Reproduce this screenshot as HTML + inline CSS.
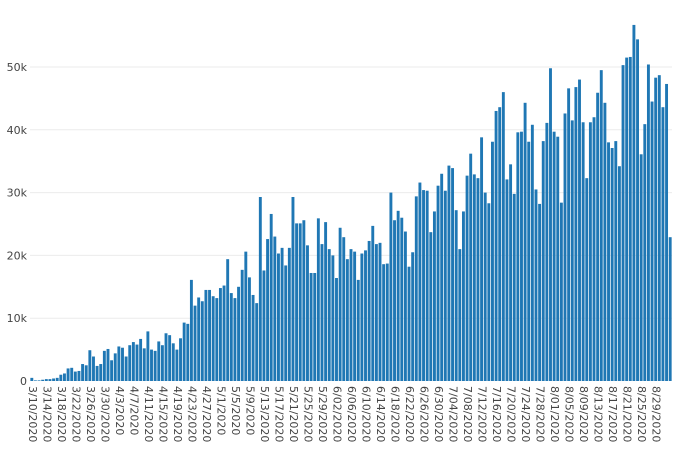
<!DOCTYPE html>
<html><head><meta charset="utf-8"><style>
body{margin:0;background:#fff}
svg{display:block;font-family:"DejaVu Sans","Liberation Sans",sans-serif}
</style></head><body>
<svg id="chart" width="680" height="458" viewBox="0 0 680 458">
<g id="grid"></g>
<g id="bars"></g>
<g id="yaxis"></g>
<g id="xaxis"></g>
</svg>
<script>
const values = [0.5,0.1,0.1,0.2,0.3,0.3,0.4,0.5,1,1.2,2,2.1,
1.5,1.6,2.7,2.5,4.9,3.9,2.4,2.7,4.8,5.1,3.3,4.4,5.5,5.3,3.9,5.7,6.2,5.8,6.7,5.2,7.9,5,4.8,6.3,5.7,7.6,7.3,6,5,6.8,9.3,9.1,16.1,
12,13.3,12.7,14.5,14.5,13.5,13.2,14.8,15.2,19.4,14,13.2,15,17.7,20.6,16.5,13.7,12.4,29.3,17.6,22.6,26.6,23,20.3,21.2,18.4,21.2,29.3,25.1,25.1,25.6,21.6,17.2,17.2,25.9,21.8,25.3,21,20,16.4,24.4,22.9,19.4,21,20.6,16.1,20.3,20.8,22.3,24.7,21.8,22,
18.6,18.7,30,25.6,27.1,26,23.8,18.2,20.5,29.4,31.6,30.4,30.3,23.7,27,31.1,33,30.3,34.3,33.9,27.2,21,27,32.7,36.2,32.9,32.3,38.8,30,28.3,38.1,43,43.6,46,32.1,34.5,29.8,39.6,39.7,44.3,38.1,40.8,30.5,28.2,38.2,41.1,49.8,39.7,38.9,28.4,42.6,46.6,41.5,46.8,48,41.2,32.3,41.2,42,45.9,49.5,44.3,38,37.1,38.2,34.2,50.3,51.5,51.6,56.7,54.4,36.1,40.9,50.4,44.5,48.3,48.7,43.6,47.3,22.9];
const yTicks = [0,10,20,30,40,50];
const yTickLabels = ["0","10k","20k","30k","40k","50k"];
const xTickLabels = ["3/10/2020","3/14/2020","3/18/2020","3/22/2020","3/26/2020","3/30/2020","4/3/2020","4/7/2020","4/11/2020","4/15/2020","4/19/2020","4/23/2020","4/27/2020","5/1/2020","5/5/2020","5/9/2020","5/13/2020","5/17/2020","5/21/2020","5/25/2020","5/29/2020","6/02/2020","6/06/2020","6/10/2020","6/14/2020","6/18/2020","6/22/2020","6/26/2020","6/30/2020","7/04/2020","7/08/2020","7/12/2020","7/16/2020","7/20/2020","7/24/2020","7/28/2020","8/01/2020","8/05/2020","8/09/2020","8/13/2020","8/17/2020","8/21/2020","8/25/2020","8/29/2020"];
const tickEvery = 4;

const NS="http://www.w3.org/2000/svg";
const L=30,R=672,Y0=381,PX10K=62.8;
const band=(R-L)/values.length;
const x=i=>L+(i+0.5)*band;
const y=v=>Y0-v*PX10K/10;
function mk(t,a,p){const e=document.createElementNS(NS,t);for(const k in a)e.setAttribute(k,a[k]);p.appendChild(e);return e;}
const grid=document.getElementById('grid'),bars=document.getElementById('bars'),ya=document.getElementById('yaxis'),xa=document.getElementById('xaxis');
yTicks.forEach((t,k)=>{
  if(t>0){const g=mk('line',{x1:L,x2:R,y1:y(t),y2:y(t),stroke:'#ebebeb','stroke-width':1},grid);
  
  }
  const tx=mk('text',{x:27,y:y(t)+4,'text-anchor':'end','font-size':11,fill:'#444'},ya);
  tx.textContent=yTickLabels[k];
  
  
});
values.forEach((v,i)=>{
  const r=mk('rect',{x:x(i)-band*0.4,width:band*0.8,y:y(v),height:Y0-y(v),fill:'#1f77b4'},bars);
  
  
});
xTickLabels.forEach((lbl,k)=>{
  const i=k*tickEvery;
  const tx=mk('text',{transform:`translate(${x(i)},386) rotate(90)`,'font-size':11,fill:'#444','dominant-baseline':'middle'},xa);
  tx.textContent=lbl;
  
  
});
</script>
</body></html>
